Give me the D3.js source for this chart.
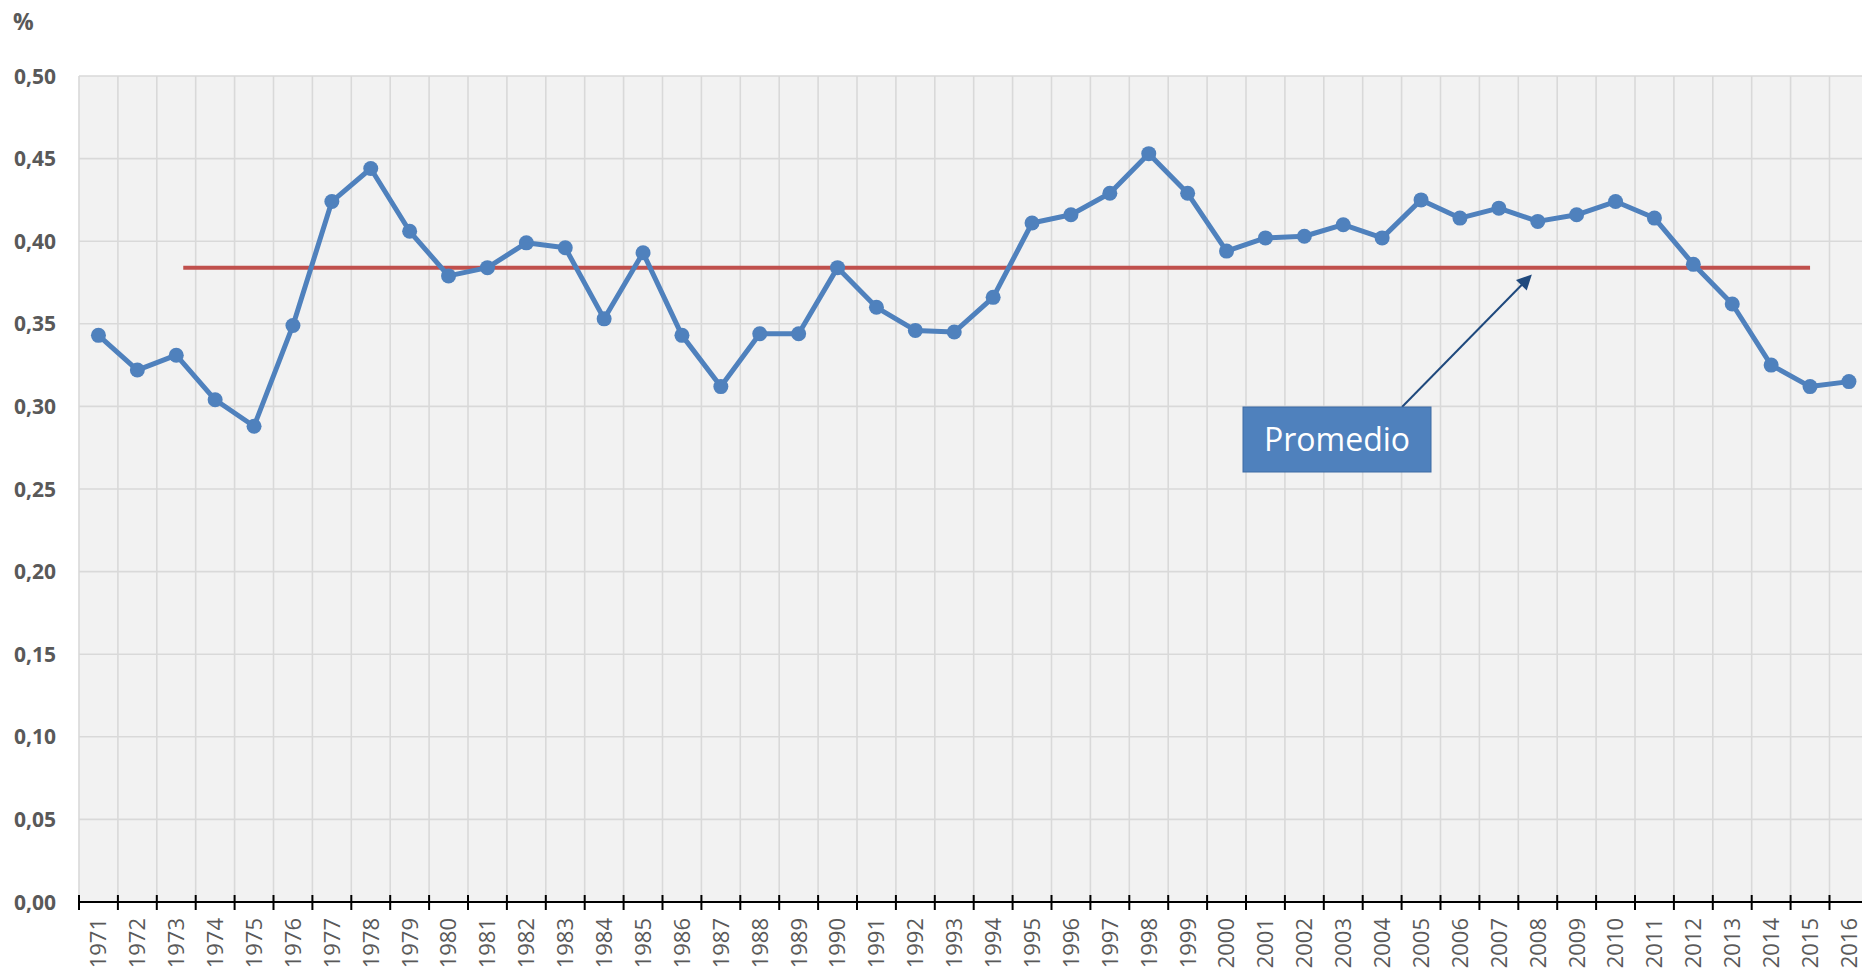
<!DOCTYPE html>
<html>
<head>
<meta charset="utf-8">
<script src="https://cdn.jsdelivr.net/npm/d3@7"></script>
<style>
  html, body { margin: 0; padding: 0; background: #fff; }
  svg { display: block; font-family: "Open Sans", "DejaVu Sans", sans-serif; }
</style>
</head>
<body>
<svg id="chart" width="1862" height="968"></svg>
<script>
(function(){
    // years on the x axis
    var years = d3.range(1971, 2017).map(String);

    // share
    var values = [
        0.343, 0.322, 0.331, 0.304, 0.288, 0.349, 0.424, 0.444, 0.406, 0.379,
        0.384, 0.399, 0.396, 0.353, 0.393, 0.343, 0.312, 0.344, 0.344, 0.384,
        0.360, 0.346, 0.345, 0.366, 0.411, 0.416, 0.429, 0.453, 0.429, 0.394,
        0.402, 0.403, 0.410, 0.402, 0.425, 0.414, 0.420, 0.412, 0.416, 0.424,
        0.414, 0.386, 0.362, 0.325, 0.312, 0.315
    ];

    var yTicks = [0, 0.05, 0.10, 0.15, 0.20, 0.25, 0.30, 0.35, 0.40, 0.45, 0.50];

    // average line
    var average = 0.384;
    var avgFrom = "1973";
    var avgTo = "2015";
    var noteLabel = "Promedio";
    var noteYear = "2008";

    var svg = d3.select("#chart");
    var left = 79, top = 76, bottom = 902;
    var band = 38.9;
    var right = left + band * years.length;

    var x = d3.scaleBand().domain(years).range([left, right]).padding(0);
    var y = d3.scaleLinear().domain([0, 0.5]).range([bottom, top]);
    var cx = function (yr) { return x(yr) + x.bandwidth() / 2; };

    var fmt = function (v) { return d3.format(".2f")(v).replace(".", ","); };

    // background
    svg.append("rect")
        .attr("x", left).attr("y", top)
        .attr("width", right - left).attr("height", bottom - top)
        .attr("fill", "#f2f2f2");

    // grid
    var grid = svg.append("g").attr("class", "grid");
    grid.selectAll(".hgrid")
        .data(yTicks.slice(1))
        .enter().append("line")
        .attr("class", "hgrid")
        .attr("x1", left).attr("x2", right)
        .attr("y1", function (d) { return y(d); })
        .attr("y2", function (d) { return y(d); })
        .attr("stroke", "#d9d9d9")
        .attr("stroke-width", 1.6);
    grid.selectAll(".vgrid")
        .data(years)
        .enter().append("line")
        .attr("class", "vgrid")
        .attr("x1", function (d) { return x(d); })
        .attr("x2", function (d) { return x(d); })
        .attr("y1", top).attr("y2", bottom)
        .attr("stroke", "#d9d9d9")
        .attr("stroke-width", 1.6);

    // y labels
    svg.append("g")
        .selectAll("text")
        .data(yTicks)
        .enter().append("text")
        .attr("x", 56)
        .attr("y", function (d) { return y(d); })
        .attr("dy", "0.36em")
        .attr("text-anchor", "end")
        .attr("font-size", 21)
        .attr("font-weight", "bold")
        .attr("fill", "#595959")
        .text(fmt);

    svg.append("text")
        .attr("x", 13).attr("y", 30)
        .attr("font-size", 23)
        .attr("font-weight", "bold")
        .attr("fill", "#595959")
        .text("%");

    // x axis
    var xAxis = svg.append("g").attr("class", "x-axis");
    xAxis.append("line")
        .attr("x1", left).attr("x2", right)
        .attr("y1", bottom).attr("y2", bottom)
        .attr("stroke", "#000").attr("stroke-width", 2);
    xAxis.selectAll(".tick")
        .data(years)
        .enter().append("line")
        .attr("class", "tick")
        .attr("x1", function (d) { return x(d); })
        .attr("x2", function (d) { return x(d); })
        .attr("y1", bottom - 7).attr("y2", bottom + 8)
        .attr("stroke", "#000").attr("stroke-width", 2);
    xAxis.selectAll(".lbl")
        .data(years)
        .enter().append("text")
        .attr("class", "lbl")
        .attr("transform", function (d) { return "translate(" + cx(d) + "," + (bottom + 16) + ") rotate(-90)"; })
        .attr("dy", "0.36em")
        .attr("text-anchor", "end")
        .attr("font-size", 22)
        .attr("fill", "#595959")
        .text(function (d) { return d; });

    // average line
    svg.append("line")
        .attr("x1", cx(avgFrom) + 7).attr("x2", cx(avgTo))
        .attr("y1", y(average)).attr("y2", y(average))
        .attr("stroke", "#c0504d")
        .attr("stroke-width", 4);

    // series
    var pts = years.map(function (d, i) { return { year: d, v: values[i] }; });
    var line = d3.line()
        .x(function (d) { return cx(d.year); })
        .y(function (d) { return y(d.v); });
    svg.append("path")
        .datum(pts)
        .attr("d", line)
        .attr("fill", "none")
        .attr("stroke", "#4f81bd")
        .attr("stroke-width", 5)
        .attr("stroke-linejoin", "round");
    svg.append("g")
        .selectAll("circle")
        .data(pts)
        .enter().append("circle")
        .attr("cx", function (d) { return cx(d.year); })
        .attr("cy", function (d) { return y(d.v); })
        .attr("r", 7.5)
        .attr("fill", "#4f81bd");

    // annotation
    svg.append("defs").append("marker")
        .attr("id", "arrow")
        .attr("viewBox", "0 0 10 10")
        .attr("refX", 8).attr("refY", 5)
        .attr("markerWidth", 8).attr("markerHeight", 7.5)
        .attr("markerUnits", "strokeWidth")
        .attr("orient", "auto")
        .append("path")
        .attr("d", "M0,0 L10,5 L0,10 z")
        .attr("fill", "#1f497d");

    var tipX = cx(noteYear) - 8, tipY = y(average) + 9;
    var box = { x: 1243, y: 407, w: 188, h: 65 };
    svg.append("line")
        .attr("x1", 1402).attr("y1", box.y)
        .attr("x2", tipX).attr("y2", tipY)
        .attr("stroke", "#1f497d")
        .attr("stroke-width", 2)
        .attr("marker-end", "url(#arrow)");
    svg.append("rect")
        .attr("x", box.x).attr("y", box.y)
        .attr("width", box.w).attr("height", box.h)
        .attr("fill", "#4f81bd")
        .attr("stroke", "#3c6aa3").attr("stroke-width", 1);
    svg.append("text")
        .attr("x", box.x + box.w / 2).attr("y", box.y + box.h / 2)
        .attr("dy", "0.36em")
        .attr("text-anchor", "middle")
        .attr("font-size", 32)
        .attr("fill", "#fff")
        .text(noteLabel);
})();
</script>
</body>
</html>
